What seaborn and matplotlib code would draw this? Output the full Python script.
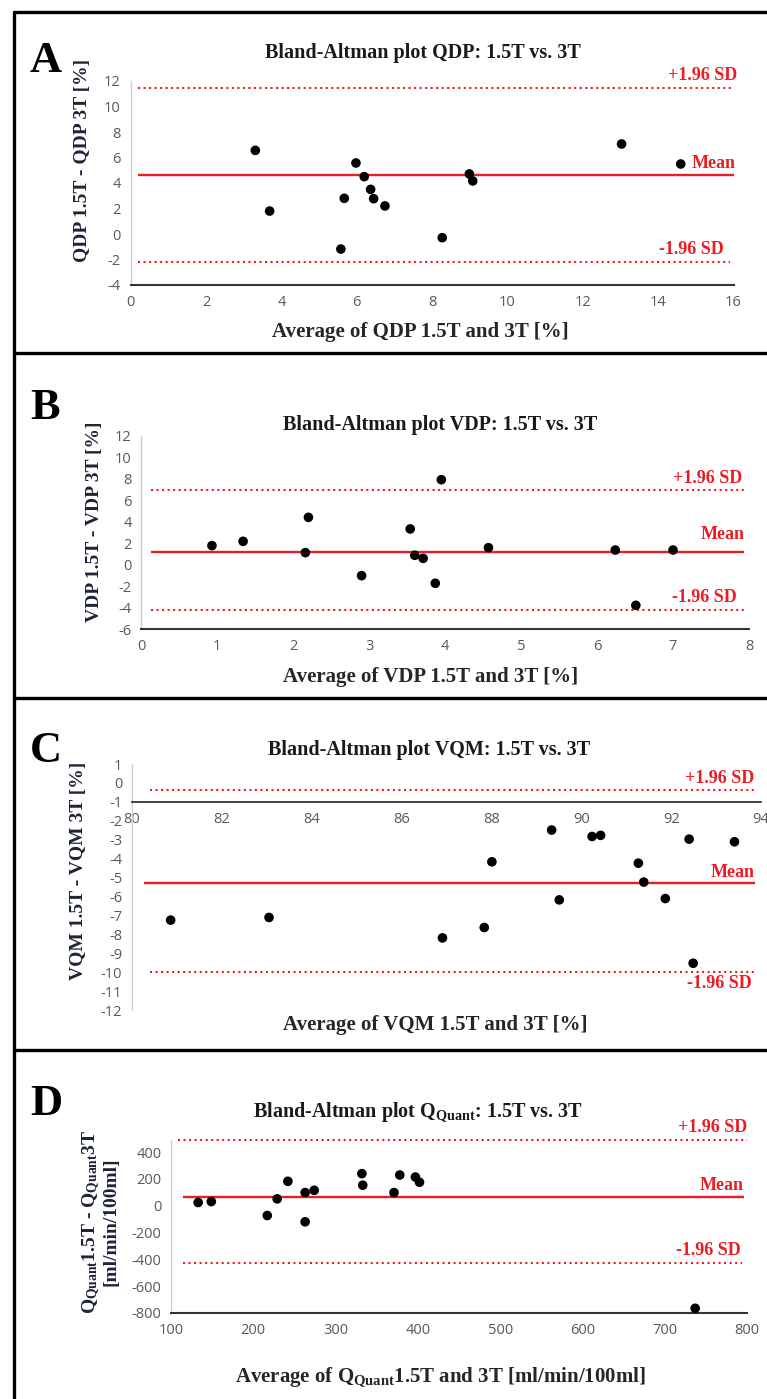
import matplotlib
matplotlib.use("Agg")
import matplotlib.pyplot as plt
import seaborn as sns
import pandas as pd
from matplotlib.lines import Line2D

# values
qdp_avg = [3.31, 3.69, 5.58, 5.67, 5.98, 6.20, 6.37, 6.45, 6.75, 8.27, 8.99, 9.08, 13.03, 14.60]
qdp_diff = [6.56, 1.80, -1.18, 2.80, 5.57, 4.50, 3.50, 2.77, 2.20, -0.29, 4.71, 4.16, 7.06, 5.49]
qdp_lines = [11.48, 4.65, -2.22]  # +1.96 SD, mean, -1.96 SD

vdp_avg = [0.93, 1.34, 2.16, 2.20, 2.90, 3.54, 3.60, 3.71, 3.87, 3.95, 4.57, 6.24, 6.51, 7.00]
vdp_diff = [1.78, 2.18, 1.13, 4.41, -1.01, 3.33, 0.88, 0.60, -1.72, 7.91, 1.59, 1.37, -3.77, 1.37]
vdp_lines = [6.92, 1.19, -4.23]

vqm_avg = [80.86, 83.05, 86.91, 87.84, 88.01, 89.34, 89.51, 90.24, 90.43, 91.27, 91.39, 91.87,
           92.40, 92.49, 93.41]
vqm_diff = [-7.25, -7.11, -8.19, -7.64, -4.17, -2.49, -6.18, -2.83, -2.77, -4.24, -5.24, -6.11,
            -2.97, -9.53, -3.11]
vqm_lines = [-0.36, -5.28, -9.97]

qq_avg = [133, 149, 217, 229, 242, 263, 263, 274, 332, 333, 371, 378, 397, 402, 737]
qq_diff = [24, 31, -73, 51, 182, 98, -120, 115, 239, 153, 98, 229, 214, 175, -765]
qq_lines = [489, 66, -424]

W, H = 767, 1399
RED = "#ec1c24"
NAVY = "#1c2438"
SERIF = ["Liberation Serif", "DejaVu Serif"]
TICK = ["Liberation Sans Narrow", "Open Sans", "DejaVu Sans"]

sns.set_style("white")
plt.rcParams["font.family"] = TICK
plt.rcParams["axes.unicode_minus"] = False
plt.rcParams["mathtext.fontset"] = "custom"
plt.rcParams["mathtext.rm"] = "Liberation Serif:bold"
plt.rcParams["mathtext.bf"] = "Liberation Serif:bold"
plt.rcParams["mathtext.it"] = "Liberation Serif:bold"


def fx(px):
    return px / W


def fy(py):
    return 1 - py / H


def box(l, r, t, b):
    return [fx(l), fy(b), fx(r) - fx(l), (b - t) / H]


fig = plt.figure(figsize=(W / 100, H / 100), dpi=100)


def panel(rect, x, y, lines, spans, xlim, ylim, yticks, xticks, labels):
    ax = fig.add_axes(rect)
    df = pd.DataFrame({"x": x, "y": y})
    sns.scatterplot(data=df, x="x", y="y", ax=ax, color="black", s=48, edgecolor="none", zorder=5)
    for val, (x0, x1), ls in zip(lines, spans, [":", "-", ":"]):
        ax.hlines(val, x0, x1, color=RED, lw=1.7 if ls == "-" else 1.5, linestyles=ls, zorder=3,
                  clip_on=False)
    for (tx, ty, s) in labels:
        ax.text(tx, ty, s, color=RED, fontsize=13, fontweight="bold", family=SERIF,
                ha="right", va="center", clip_on=False)
    ax.set_xlim(*xlim)
    ax.set_ylim(*ylim)
    ax.set_xticks(xticks)
    ax.set_yticks(yticks)
    ax.set_xlabel("")
    ax.set_ylabel("")
    ax.tick_params(length=0, pad=7, labelsize=10.5, labelcolor="#595959")
    for s in ["top", "right"]:
        ax.spines[s].set_visible(False)
    ax.spines["left"].set_color("#d0d0d0")
    ax.spines["left"].set_linewidth(1)
    ax.spines["bottom"].set_color("#333333")
    ax.spines["bottom"].set_linewidth(1.5)
    return ax


# A
panel(box(130.6, 733.5, 81, 285), qdp_avg, qdp_diff, qdp_lines,
      [(0.2, 16), (0.2, 16), (0.2, 15.9)], (0, 16), (-4, 12), range(-4, 13, 2), range(0, 17, 2),
      [(16.1, 12.4, "+1.96 SD"), (16.05, 5.5, "Mean"), (15.75, -1.25, "-1.96 SD")])

# B
panel(box(141.3, 749, 435.7, 629.3), vdp_avg, vdp_diff, vdp_lines,
      [(0.13, 7.94), (0.13, 7.94), (0.13, 7.94)], (0, 8), (-6, 12), range(-6, 13, 2), range(0, 9),
      [(7.91, 8.05, "+1.96 SD"), (7.94, 2.85, "Mean"), (7.84, -3.0, "-1.96 SD")])

# C
axc = panel(box(132, 761, 764, 1010), vqm_avg, vqm_diff, vqm_lines,
            [(80.41, 93.86), (80.27, 93.86), (80.41, 93.86)], (80, 94), (-12, 1), range(-12, 2),
            range(80, 95, 2),
            [(93.86, 0.21, "+1.96 SD"), (93.86, -4.73, "Mean"), (93.8, -10.62, "-1.96 SD")])
axc.spines["bottom"].set_position(("data", -1))
axc.spines["bottom"].set_color("#222222")
axc.spines["bottom"].set_linewidth(1.2)

# D
panel(box(171, 747, 1140, 1313), qq_avg, qq_diff, qq_lines,
      [(109, 800), (115, 796), (115, 794)], (100, 800), (-800, 490), range(-800, 401, 200),
      range(100, 801, 100),
      [(800, 580, "+1.96 SD"), (796, 153, "Mean"), (792, -335, "-1.96 SD")])

# panel letters, titles and axis labels
letters = [("A", 43), ("B", 390), ("C", 733), ("D", 1086)]
for s, top in letters:
    fig.text(fx(30), fy(top - 2), s, fontsize=32, fontweight="bold", family=SERIF,
             ha="left", va="top", color="black")

titles = [(423, 53, "Bland-Altman plot QDP: 1.5T vs. 3T"),
          (440, 425, "Bland-Altman plot VDP: 1.5T vs. 3T"),
          (429, 750, "Bland-Altman plot VQM: 1.5T vs. 3T"),
          (418, 1112, "Bland-Altman plot Q$_{\\mathrm{Quant}}$: 1.5T vs. 3T")]
for x, y, s in titles:
    fig.text(fx(x), fy(y), s, fontsize=14.5, fontweight="bold", family=SERIF,
             ha="center", va="center", color="#1a1a1a")

xlabels = [(420, 332, "Average of QDP 1.5T and 3T [%]"),
           (431, 677, "Average of VDP 1.5T and 3T [%]"),
           (435, 1025, "Average of VQM 1.5T and 3T [%]"),
           (440, 1377, "Average of Q$_{\\mathrm{Quant}}$1.5T and 3T [ml/min/100ml]")]
for x, y, s in xlabels:
    fig.text(fx(x), fy(y), s, fontsize=15, fontweight="bold", family=SERIF,
             ha="center", va="center", color="#262626")

ylabels = [(83, 160, "QDP 1.5T - QDP 3T [%]"),
           (95, 522, "VDP 1.5T - VDP 3T [%]"),
           (78, 871, "VQM 1.5T - VQM 3T [%]"),
           (100, 1222, "Q$_{\\mathrm{Quant}}$1.5T - Q$_{\\mathrm{Quant}}$3T\n[ml/min/100ml]")]
for x, y, s in ylabels:
    fig.text(fx(x), fy(y), s, fontsize=14, fontweight="bold", family=SERIF, rotation=90,
             ha="center", va="center", color=NAVY, multialignment="center", linespacing=1.0)

# black frame lines around the panels
lw = 2.4
fig.add_artist(Line2D([fx(14), fx(14)], [fy(12), 0], color="black", lw=lw))
for yy in [12, 353, 698, 1050]:
    fig.add_artist(Line2D([fx(14), 1], [fy(yy), fy(yy)], color="black", lw=lw))

fig.savefig("out.png", dpi=100)
